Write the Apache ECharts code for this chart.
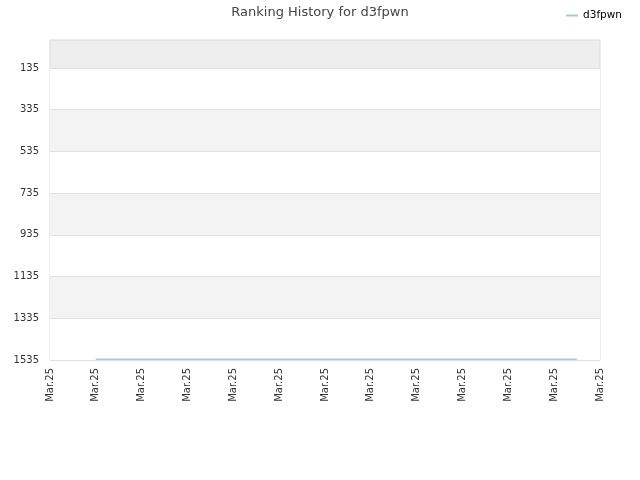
<!DOCTYPE html>
<html>
<head>
<meta charset="utf-8">
<script src="https://cdn.jsdelivr.net/npm/echarts@6/dist/echarts.min.js"></script>
<style>html,body{margin:0;padding:0;background:#fff;}#c{width:640px;height:480px;}</style>
</head>
<body>
<div id="c"></div>
<script>
const seriesName = 'd3fpwn';
const xTickLabels = ['Mar.25','Mar.25','Mar.25','Mar.25','Mar.25','Mar.25','Mar.25','Mar.25','Mar.25','Mar.25','Mar.25','Mar.25','Mar.25'];
const xPositions = [1, 1.8, 5.2, 10.4, 11.5];
const rankValues = [1531, 1531, 1531, 1531, 1531];
const yTicks = [135, 335, 535, 735, 935, 1135, 1335, 1535];
const yMin = 1, yMax = 1535;

const chart = echarts.init(document.getElementById('c'));
chart.setOption({
  animation: false,
  title: {
    text: 'Ranking History for ' + seriesName,
    left: 'center', top: 1,
    textStyle: { fontFamily: 'DejaVu Sans', fontSize: 13, fontWeight: 'normal', color: '#444' }
  },
  legend: {
    right: 13, top: 5,
    itemWidth: 12, itemHeight: 2, itemGap: 8,
    icon: 'rect',
    textStyle: { fontFamily: 'DejaVu Sans', fontSize: 10.5, color: '#000' },
    data: [seriesName]
  },
  grid: { left: 50, right: 40, top: 40, bottom: 120, show: true, backgroundColor: '#eeeeee', borderColor: '#dcdcdc', borderWidth: 1 },
  xAxis: {
    type: 'value', min: 0, max: xTickLabels.length - 1, interval: 1,
    axisLine: { show: false }, axisTick: { show: false }, splitLine: { show: false },
    axisLabel: {
      rotate: 90, margin: 8, fontFamily: 'DejaVu Sans', fontSize: 10, color: '#333',
      formatter: (v) => xTickLabels[Math.round(v)] || ''
    }
  },
  yAxis: {
    type: 'value', inverse: true, min: yMin, max: yMax,
    axisLine: { show: false },
    axisTick: { show: false, customValues: yTicks },
    axisLabel: { customValues: yTicks, fontFamily: 'DejaVu Sans', fontSize: 10, color: '#333', margin: 11,
      formatter: (v) => String(v) },
    splitLine: { show: true, lineStyle: { color: '#e0e0e0' } },
    splitArea: { show: true, areaStyle: { color: ['#ffffff','#f3f3f3'] } }
  },
  series: [{
    name: seriesName, type: 'line',
    data: xPositions.map((x, i) => [x, rankValues[i]]),
    showSymbol: false,
    lineStyle: { color: '#9fcbf0', width: 1.5 },
    itemStyle: { color: '#9fcbf0' }
  }]
});
</script>
</body>
</html>
